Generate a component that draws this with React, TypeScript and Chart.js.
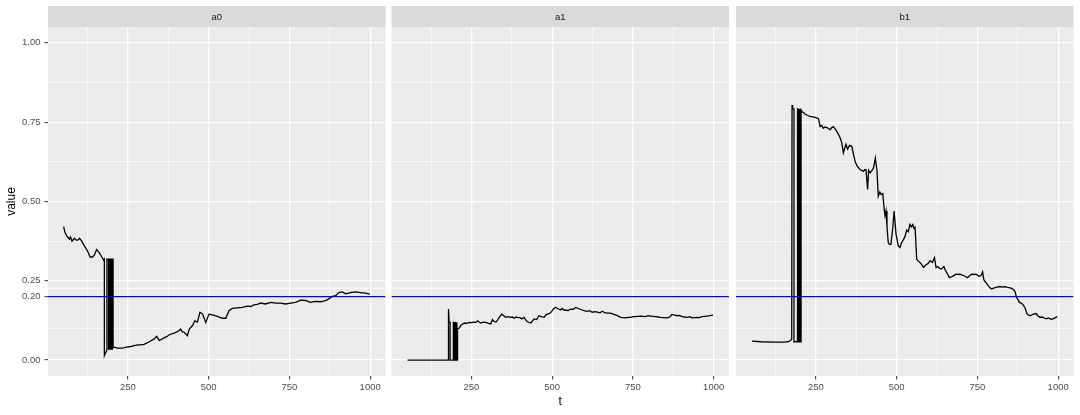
import React, { useEffect, useRef } from "react";
import { Chart, registerables } from "chart.js";

Chart.register(...registerables);

// ---------- data ----------
const panelNames = ["a0", "a1", "b1"];
const xTicks = [250, 500, 750, 1000];
const xMinorTicks = [125, 375, 625, 875];
const yTicks = [0, 0.2, 0.25, 0.5, 0.75, 1];
const yMinorTicks = [0.1, 0.225, 0.375, 0.625, 0.875];
const threshold = 0.2;
const xLimits = [2.5, 1047.5];
const yLimits = [-0.05, 1.05];

const tA0 = [51, 55, 61, 66, 69, 72, 77, 84, 90, 95,
  100, 107, 115, 125, 133, 140, 146, 153, 161, 169,
  175, 177, 177, 185, 185, 190, 190, 194, 194, 198,
  198, 202, 202, 204, 204, 210, 218, 233, 245, 259,
  270, 280, 290, 300, 316, 331, 339, 347, 355, 362,
  370, 378, 393, 400, 408, 413, 418, 424, 434, 440,
  450, 457, 465, 473, 481, 491, 501, 511, 520, 527,
  535, 543, 553, 563, 573, 589, 604, 620, 630, 640,
  650, 661, 676, 692, 707, 723, 738, 754, 769, 785,
  800, 815, 831, 846, 856, 867, 883, 893, 903, 914,
  924, 939, 955, 970, 986, 999];
const vA0 = [0.421, 0.402, 0.391, 0.385, 0.381, 0.388, 0.375, 0.384, 0.378, 0.378,
  0.384, 0.375, 0.36, 0.344, 0.325, 0.325, 0.331, 0.349, 0.339, 0.325,
  0.315, 0.318, 0.014, 0.032, 0.318, 0.318, 0.035, 0.035, 0.318, 0.318,
  0.035, 0.035, 0.318, 0.318, 0.041, 0.04, 0.038, 0.038, 0.041, 0.043,
  0.046, 0.048, 0.048, 0.05, 0.058, 0.067, 0.075, 0.062, 0.066, 0.07,
  0.074, 0.08, 0.085, 0.088, 0.093, 0.098, 0.09, 0.088, 0.077, 0.098,
  0.109, 0.124, 0.12, 0.151, 0.146, 0.119, 0.145, 0.143, 0.14, 0.138,
  0.135, 0.132, 0.132, 0.156, 0.163, 0.165, 0.166, 0.17, 0.169, 0.174,
  0.176, 0.18, 0.177, 0.182, 0.18, 0.18, 0.177, 0.18, 0.182, 0.189,
  0.188, 0.182, 0.185, 0.184, 0.186, 0.19, 0.201, 0.203, 0.213, 0.215,
  0.209, 0.213, 0.215, 0.213, 0.211, 0.208];

const tA1 = [52, 176, 179, 179, 181, 184, 184, 194, 194, 198,
  198, 202, 202, 205, 205, 207, 207, 212, 217, 222,
  228, 236, 243, 250, 258, 264, 269, 274, 279, 287,
  295, 303, 310, 315, 320, 326, 331, 336, 344, 350,
  356, 364, 372, 377, 382, 388, 393, 400, 406, 413,
  418, 423, 434, 444, 452, 459, 467, 475, 480, 485,
  492, 498, 505, 511, 518, 526, 531, 536, 541, 549,
  557, 565, 573, 583, 593, 601, 609, 616, 624, 632,
  640, 648, 655, 662, 670, 680, 691, 702, 712, 720,
  727, 735, 743, 750, 758, 765, 773, 781, 789, 797,
  804, 812, 820, 828, 835, 845, 856, 864, 871, 879,
  887, 895, 902, 910, 918, 926, 933, 941, 948, 956,
  964, 972, 979, 988, 998];
const vA1 = [0, 0, 0, 0.161, 0.119, 0.119, 0, 0, 0.119, 0.118,
  0, 0, 0.118, 0.117, 0, 0, 0.098, 0.101, 0.109, 0.113,
  0.117, 0.116, 0.119, 0.118, 0.12, 0.119, 0.124, 0.12, 0.117, 0.12,
  0.119, 0.116, 0.114, 0.128, 0.122, 0.12, 0.126, 0.135, 0.145, 0.14,
  0.135, 0.137, 0.135, 0.136, 0.132, 0.136, 0.135, 0.134, 0.13, 0.135,
  0.127, 0.121, 0.117, 0.13, 0.128, 0.14, 0.137, 0.135, 0.142, 0.145,
  0.147, 0.153, 0.163, 0.166, 0.162, 0.158, 0.163, 0.158, 0.158, 0.156,
  0.161, 0.16, 0.166, 0.162, 0.158, 0.155, 0.154, 0.156, 0.151, 0.153,
  0.151, 0.149, 0.154, 0.15, 0.148, 0.148, 0.144, 0.14, 0.135, 0.134,
  0.133, 0.135, 0.135, 0.137, 0.137, 0.138, 0.139, 0.138, 0.137, 0.14,
  0.139, 0.138, 0.137, 0.136, 0.135, 0.134, 0.133, 0.136, 0.144, 0.142,
  0.14, 0.141, 0.137, 0.136, 0.135, 0.137, 0.133, 0.134, 0.135, 0.134,
  0.137, 0.138, 0.139, 0.14, 0.142];

const tB1 = [52, 80, 119, 150, 165, 171, 175, 176, 178, 182,
  182, 193, 193, 197, 197, 200, 200, 203, 203, 204,
  204, 207, 212, 217, 225, 232, 240, 248, 258, 263,
  268, 273, 278, 284, 289, 294, 299, 304, 310, 315,
  319, 323, 327, 330, 335, 339, 343, 348, 354, 361,
  366, 371, 378, 383, 387, 392, 397, 401, 405, 410,
  413, 418, 423, 428, 434, 439, 443, 448, 452, 457,
  461, 464, 467, 470, 474, 478, 482, 488, 492, 498,
  505, 510, 515, 521, 526, 531, 536, 541, 546, 550,
  554, 557, 562, 567, 572, 578, 583, 588, 593, 598,
  603, 611, 617, 622, 627, 632, 639, 646, 650, 655,
  663, 668, 673, 679, 684, 690, 696, 703, 709, 714,
  719, 725, 732, 739, 745, 750, 755, 761, 766, 770,
  777, 784, 789, 794, 800, 808, 814, 819, 827, 835,
  840, 845, 851, 856, 862, 866, 871, 876, 880, 885,
  890, 897, 904, 909, 914, 919, 924, 932, 937, 943,
  948, 953, 959, 964, 969, 974, 979, 984, 990, 997];
const vB1 = [0.06, 0.058, 0.057, 0.057, 0.058, 0.062, 0.066, 0.804, 0.792, 0.792,
  0.058, 0.058, 0.792, 0.79, 0.058, 0.058, 0.79, 0.79, 0.058, 0.058,
  0.788, 0.783, 0.78, 0.775, 0.771, 0.768, 0.767, 0.765, 0.761, 0.736,
  0.74, 0.731, 0.735, 0.733, 0.73, 0.726, 0.733, 0.736, 0.728, 0.72,
  0.713, 0.705, 0.695, 0.684, 0.653, 0.668, 0.68, 0.665, 0.677, 0.674,
  0.65, 0.627, 0.611, 0.605, 0.6, 0.598, 0.595, 0.6, 0.6, 0.538,
  0.598, 0.59, 0.597, 0.605, 0.637, 0.597, 0.517, 0.53, 0.522, 0.525,
  0.48, 0.455, 0.47, 0.42, 0.37, 0.365, 0.365, 0.417, 0.47, 0.397,
  0.36, 0.355, 0.37, 0.38, 0.39, 0.41, 0.405, 0.428, 0.42, 0.427,
  0.415, 0.418, 0.318, 0.312, 0.308, 0.3, 0.292, 0.298, 0.302, 0.305,
  0.313, 0.308, 0.323, 0.292, 0.295, 0.29, 0.287, 0.295, 0.285, 0.276,
  0.26, 0.262, 0.264, 0.268, 0.271, 0.27, 0.271, 0.268, 0.266, 0.263,
  0.26, 0.265, 0.271, 0.27, 0.271, 0.268, 0.264, 0.266, 0.278, 0.253,
  0.244, 0.234, 0.228, 0.224, 0.227, 0.229, 0.231, 0.232, 0.23, 0.232,
  0.23, 0.229, 0.228, 0.226, 0.222, 0.218, 0.198, 0.19, 0.182, 0.18,
  0.176, 0.166, 0.145, 0.142, 0.14, 0.143, 0.145, 0.147, 0.14, 0.135,
  0.136, 0.135, 0.132, 0.13, 0.133, 0.131, 0.129, 0.13, 0.133, 0.137];

const seriesT = [tA0, tA1, tB1];
const seriesV = [vA0, vA1, vB1];

// ---------- layout / style ----------
const W = 1080;
const H = 415;
const panelLefts = [48, 391.5, 736];
const panelWidth = 337.5;
const stripTop = 6;
const panelTop = 27;
const panelBottom = 376;
const FONT = '"Liberation Sans", Arial, Helvetica, sans-serif';

const near = (a: number, b: number) => Math.abs(a - b) < 1e-9;
const isMajorX = (v: number) => xTicks.some((t) => near(t, v));
const isMajorY = (v: number) => yTicks.some((t) => near(t, v));

function makeConfig(i: number): any {
  const left = panelLefts[i];
  const isFirst = i === 0;
  const isMid = i === 1;
  const name = panelNames[i];

  const facetPlugin = {
    id: "facetBg" + i,
    beforeDraw(chart: any) {
      const { ctx, chartArea } = chart;
      ctx.save();
      ctx.fillStyle = "#EBEBEB";
      ctx.fillRect(chartArea.left, chartArea.top, chartArea.right - chartArea.left, chartArea.bottom - chartArea.top);
      ctx.fillStyle = "#D9D9D9";
      ctx.fillRect(chartArea.left, stripTop, chartArea.right - chartArea.left, chartArea.top - stripTop);
      ctx.fillStyle = "#1A1A1A";
      ctx.font = "9.5px " + FONT;
      ctx.textAlign = "center";
      ctx.textBaseline = "middle";
      ctx.fillText(name, (chartArea.left + chartArea.right) / 2, (stripTop + chartArea.top) / 2 + 0.5);
      ctx.restore();
    },
  };

  const gridOpts = (isMajor: (v: number) => boolean, drawTicks: boolean) => ({
    display: true,
    drawOnChartArea: true,
    drawTicks,
    tickLength: 3.5,
    color: "#FFFFFF",
    lineWidth: (ctx: any) => (ctx.tick && isMajor(ctx.tick.value) ? 1.3 : 0.6),
    tickColor: (ctx: any) => (ctx.tick && isMajor(ctx.tick.value) ? "#333333" : "rgba(0,0,0,0)"),
    tickWidth: 1,
  });

  return {
    type: "line",
    data: {
      datasets: [
        {
          data: [
            { x: xLimits[0], y: threshold },
            { x: xLimits[1], y: threshold },
          ],
          borderColor: "#0000FF",
          borderWidth: 1.2,
          pointRadius: 0,
          order: 0,
        },
        {
          data: seriesT[i].map((t, k) => ({ x: t, y: seriesV[i][k] })),
          borderColor: "#000000",
          borderWidth: 1.3,
          pointRadius: 0,
          tension: 0,
          order: 1,
        },
      ],
    },
    options: {
      responsive: false,
      animation: false,
      devicePixelRatio: 1,
      events: [],
      layout: {
        padding: {
          left: isFirst ? 0 : left,
          right: W - left - panelWidth,
          top: panelTop,
          bottom: 0,
        },
      },
      plugins: {
        legend: { display: false },
        tooltip: { enabled: false },
      },
      scales: {
        x: {
          type: "linear",
          min: xLimits[0],
          max: xLimits[1],
          afterBuildTicks: (s: any) => {
            s.ticks = [...xMinorTicks, ...xTicks].sort((a, b) => a - b).map((v) => ({ value: v }));
          },
          afterFit: (s: any) => {
            s.height = H - panelBottom;
          },
          border: { display: false },
          grid: gridOpts(isMajorX, true),
          ticks: {
            autoSkip: false,
            maxRotation: 0,
            minRotation: 0,
            padding: 2.5,
            color: "#4D4D4D",
            font: { family: FONT, size: 9.5 },
            callback: (v: any) => (isMajorX(Number(v)) ? String(v) : ""),
          },
          title: {
            display: isMid,
            text: "t",
            color: "#000000",
            font: { family: FONT, size: 12 },
            padding: { top: 0, bottom: 6 },
          },
        },
        y: {
          type: "linear",
          min: yLimits[0],
          max: yLimits[1],
          afterBuildTicks: (s: any) => {
            s.ticks = [...yMinorTicks, ...yTicks].sort((a, b) => a - b).map((v) => ({ value: v }));
          },
          afterFit: (s: any) => {
            s.width = isFirst ? left : 0;
          },
          border: { display: false },
          grid: gridOpts(isMajorY, isFirst),
          ticks: {
            display: isFirst,
            autoSkip: false,
            padding: 4,
            color: "#4D4D4D",
            font: { family: FONT, size: 9.5 },
            callback: (v: any) => (isMajorY(Number(v)) ? Number(v).toFixed(2) : ""),
          },
          title: {
            display: isFirst,
            text: "value",
            color: "#000000",
            font: { family: FONT, size: 12 },
            padding: { top: 4, bottom: 0 },
          },
        },
      },
    },
    plugins: [facetPlugin],
  };
}

function Panel({ index }: { index: number }) {
  const ref = useRef<HTMLCanvasElement | null>(null);
  useEffect(() => {
    if (!ref.current) return;
    const chart = new Chart(ref.current, makeConfig(index));
    return () => chart.destroy();
  }, [index]);
  return (
    <canvas
      ref={ref}
      width={W}
      height={H}
      style={{ position: "absolute", left: 0, top: 0, width: W, height: H }}
    />
  );
}

export default function App() {
  return (
    <div style={{ position: "absolute", left: 0, top: 0, width: W, height: H, background: "#FFFFFF", overflow: "hidden" }}>
      {panelNames.map((_, i) => (
        <Panel key={i} index={i} />
      ))}
    </div>
  );
}
